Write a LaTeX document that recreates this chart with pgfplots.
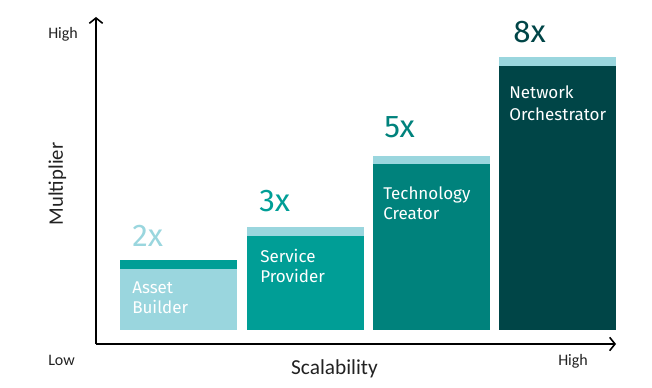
\documentclass[border=0pt]{standalone}
\usepackage{fontspec}
\setmainfont{Fira Sans}
\newfontfamily\calib{Carlito}
\usepackage{pgfplots}
\pgfplotsset{compat=1.18}
\usetikzlibrary{arrows.meta}
\definecolor{lightc}{HTML}{9AD6DE}
\definecolor{tealA}{HTML}{009E96}
\definecolor{tealB}{HTML}{00827C}
\definecolor{darkc}{HTML}{004547}
\definecolor{axtext}{HTML}{222222}
\begin{document}
\begin{tikzpicture}
\useasboundingbox (-72pt,-32.25pt) rectangle (417pt,258pt);
\begin{axis}[
  at={(0,0)}, anchor=south west, scale only axis,
  width=390pt, height=245.25pt,
  xmin=96, xmax=616, ymin=-14, ymax=313,
  axis x line=bottom, axis y line=left,
  axis line style={line width=1.2pt, black, -{Straight Barb[length=4pt,width=10pt]}},
  xtick=\empty, ytick=\empty, clip=false,
  ybar, bar width=117, bar shift=0pt,
]
% caps (full height)
\addplot[fill=tealA, draw=none] coordinates {(178.75,70)};
\addplot[fill=lightc, draw=none] coordinates {(305,103)};
\addplot[fill=lightc, draw=none] coordinates {(431,174.3)};
\addplot[fill=lightc, draw=none] coordinates {(557.5,273.3)};
% bodies
\addplot[fill=lightc, draw=none] coordinates {(178.75,61)};
\addplot[fill=tealA, draw=none] coordinates {(305,94)};
\addplot[fill=tealB, draw=none] coordinates {(431,166)};
\addplot[fill=darkc, draw=none] coordinates {(557.5,264.3)};

\tikzset{lbl/.style={anchor=base west, inner sep=0pt, text=white, font=\fontsize{12.75}{14}\selectfont},
  num/.style={anchor=base west, inner sep=0pt, font=\fontsize{23.5}{26}\selectfont}}
\node[lbl] at (axis cs:132,37) {Asset};
\node[lbl] at (axis cs:132,17) {Builder};
\node[lbl] at (axis cs:260,67) {Service};
\node[lbl] at (axis cs:260,47) {Provider};
\node[lbl] at (axis cs:383,130) {Technology};
\node[lbl] at (axis cs:383,110) {Creator};
\node[lbl] at (axis cs:509,231) {Network};
\node[lbl] at (axis cs:509,209) {Orchestrator};

\node[num, text=lightc] at (axis cs:132,83) {2x};
\node[num, text=tealA] at (axis cs:259,118) {3x};
\node[num, text=tealB] at (axis cs:384,192) {5x};
\node[num, text=darkc] at (axis cs:513,287) {8x};

\node[anchor=base west, inner sep=0pt, text=axtext, font=\calib\fontsize{12}{14}\selectfont] at (axis cs:48,291) {High};
\node[anchor=base west, inner sep=0pt, text=axtext, font=\calib\fontsize{12}{14}\selectfont] at (axis cs:48,-35) {Low};
\node[anchor=base west, inner sep=0pt, text=axtext, font=\calib\fontsize{12}{14}\selectfont] at (axis cs:558,-35) {High};
\node[anchor=base, inner sep=0pt, text=axtext, font=\calib\fontsize{16}{18}\selectfont] at (axis cs:334.5,-44) {Scalability};
\node[anchor=base, inner sep=0pt, rotate=90, text=axtext, font=\calib\fontsize{15.5}{18}\selectfont] at (axis cs:63,146) {Multiplier};
\end{axis}
\end{tikzpicture}
\end{document}
